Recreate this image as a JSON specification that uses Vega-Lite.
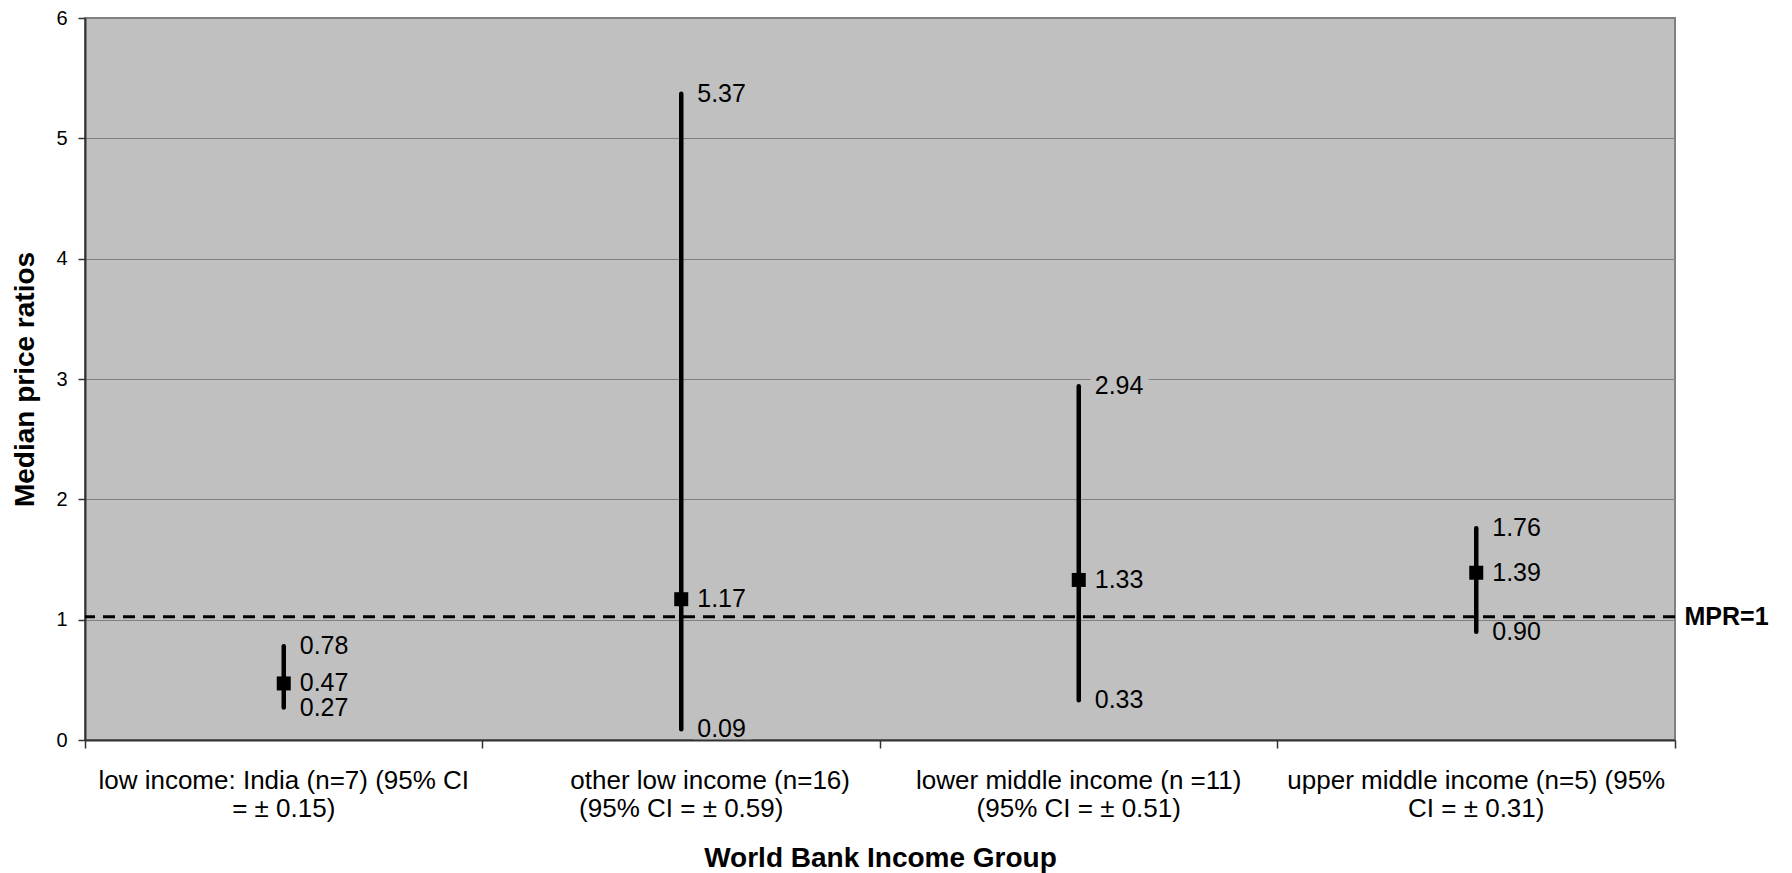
{
  "$schema": "https://vega.github.io/schema/vega-lite/v6.json",
  "autosize": "none",
  "width": 1590,
  "height": 722,
  "padding": {"left": 85, "top": 18, "right": 117, "bottom": 133},
  "background": "white",
  "config": {
    "font": "Liberation Sans",
    "view": {"fill": "#C0C0C0", "stroke": "#808080", "strokeWidth": 2}
  },
  "data": {
    "values": [
      {"group": "low income: India (n=7) (95% CI|= ± 0.15)", "low": 0.27, "median": 0.47, "high": 0.78},
      {"group": "\u200b\u00a0\u00a0\u00a0\u00a0\u00a0\u00a0\u00a0\u00a0other low income (n=16)|(95% CI = ± 0.59)", "low": 0.09, "median": 1.17, "high": 5.37},
      {"group": "lower middle income (n =11)|(95% CI = ± 0.51)", "low": 0.33, "median": 1.33, "high": 2.94},
      {"group": "upper middle income (n=5) (95%|CI = ± 0.31)", "low": 0.90, "median": 1.39, "high": 1.76}
    ]
  },
  "resolve": {"axis": {"y": "independent"}},
  "layer": [
    {
      "transform": [{"fold": ["low", "median", "high"], "as": ["stat", "value"]}],
      "mark": {"type": "point", "shape": "M-1,-0.345H1V0.345H-1Z", "filled": true, "opacity": 1, "color": "#C0C0C0", "strokeWidth": 0, "size": 3364, "xOffset": 41},
      "encoding": {
        "x": {
          "field": "group", "type": "nominal", "sort": null,
          "scale": {"paddingInner": 0, "paddingOuter": 0},
          "axis": {
            "title": "World Bank Income Group",
            "labelExpr": "split(datum.label, '|')",
            "labelAngle": 0,
            "labelFontSize": 26,
            "labelLineHeight": 28,
            "labelColor": "black",
            "labelBaseline": "alphabetic",
            "labelPadding": 40,
            "labelLimit": 0,
            "tickSize": 8,
            "tickColor": "#333333",
            "tickWidth": 1.5,
            "bandPosition": 1,
            "tickExtra": true,
            "domainColor": "#333333",
            "domainWidth": 2,
            "grid": false,
            "titleFontSize": 28,
            "titleFontWeight": "bold",
            "titleColor": "black",
            "titleY": 126,
            "titleBaseline": "alphabetic"
          }
        },
        "y": {"field": "value", "type": "quantitative", "axis": null}
      }
    },
    {
      "data": {"values": [{"mpr": 1.025}]},
      "mark": {"type": "rule", "color": "black", "strokeWidth": 3, "strokeDash": [12, 8]},
      "encoding": {
        "y": {
          "field": "mpr", "type": "quantitative",
          "axis": {
            "orient": "right",
            "values": [1.025],
            "labelExpr": "'MPR=1'",
            "domain": false,
            "ticks": false,
            "grid": false,
            "labelFontSize": 25,
            "labelFontWeight": "bold",
            "labelColor": "black",
            "labelPadding": 9,
            "title": null
          }
        }
      }
    },
    {
      "mark": {"type": "rule", "color": "black", "strokeWidth": 4.5, "strokeCap": "round"},
      "encoding": {
        "x": {"field": "group", "type": "nominal", "sort": null},
        "y": {
          "field": "low", "type": "quantitative",
          "scale": {"domain": [0, 6], "nice": false},
          "axis": {
            "title": "Median price ratios",
            "values": [0, 1, 2, 3, 4, 5, 6],
            "grid": true,
            "gridColor": "#808080",
            "gridWidth": 1.2,
            "domainColor": "#333333",
            "domainWidth": 2,
            "tickColor": "#333333",
            "tickSize": 7,
            "tickWidth": 1.5,
            "labelFontSize": 20,
            "labelPadding": 11,
            "labelColor": "black",
            "titleFontSize": 28,
            "titleFontWeight": "bold",
            "titleColor": "black",
            "titleX": -52,
            "titleY": 361,
            "titleAngle": -90,
            "titleAlign": "center",
            "titleBaseline": "alphabetic"
          }
        },
        "y2": {"field": "high"}
      }
    },
    {
      "mark": {"type": "point", "shape": "square", "filled": true, "opacity": 1, "color": "black", "size": 196},
      "encoding": {
        "x": {"field": "group", "type": "nominal", "sort": null},
        "y": {"field": "median", "type": "quantitative", "axis": null}
      }
    },
    {
      "transform": [{"fold": ["low", "median", "high"], "as": ["stat", "value"]}],
      "mark": {"type": "text", "align": "left", "baseline": "middle", "dx": 16, "fontSize": 25, "color": "black"},
      "encoding": {
        "x": {"field": "group", "type": "nominal", "sort": null},
        "y": {"field": "value", "type": "quantitative", "axis": null},
        "text": {"field": "value", "type": "quantitative", "format": ".2f"}
      }
    }
  ]
}
